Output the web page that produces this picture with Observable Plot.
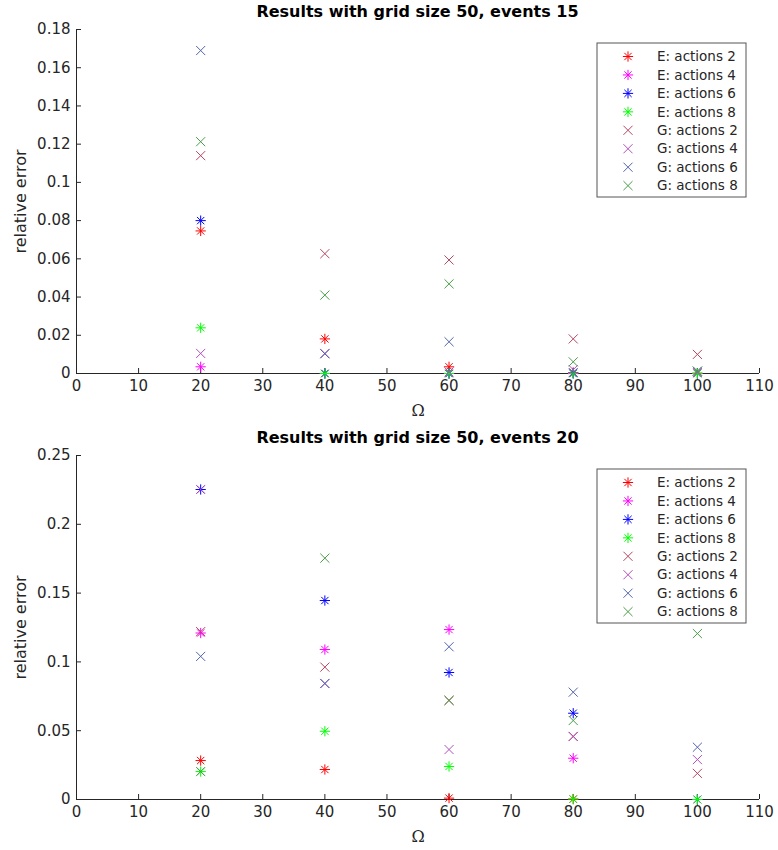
<!DOCTYPE html>
<html><head><meta charset="utf-8">
<script src="https://cdn.jsdelivr.net/npm/d3@7"></script>
<script src="https://cdn.jsdelivr.net/npm/@observablehq/plot@0.6"></script>
<style>
body{margin:0;background:#fff;font-family:"DejaVu Sans",sans-serif;}
#wrap{position:relative;width:778px;height:850px;overflow:hidden;background:#fff;}
.panel{position:absolute;left:0;width:778px;}
.title{position:absolute;left:76px;width:683px;text-align:center;font-weight:bold;font-size:16px;color:#000;font-family:"DejaVu Sans",sans-serif;}
.legend{position:absolute;}
</style></head><body><div id="wrap"></div>
<script>
// ---- data ----
const omega = [20, 40, 60, 80, 100];
const seriesKeys = ["E: actions 2","E: actions 4","E: actions 6","E: actions 8","G: actions 2","G: actions 4","G: actions 6","G: actions 8"];
const seriesColors = ["#ff0000","#ff00ff","#0000ff","#00ff00","#b5475f","#b34fc0","#5264ad","#4a9e4a"];
const xTicks = [0,10,20,30,40,50,60,70,80,90,100,110];
const yTicks15 = [0,0.02,0.04,0.06,0.08,0.1,0.12,0.14,0.16,0.18];
const yTicks20 = [0,0.05,0.1,0.15,0.2,0.25];

// grid size 50, events 15
const ev15_E2 = [0.0746, 0.0181, 0.0035, 0.0004, 0.0002];
const ev15_E4 = [0.0035, 0.0, 0.0, 0.0004, 0.0];
const ev15_E6 = [0.080, 0.0, 0.0, 0.0, 0.0];
const ev15_E8 = [0.0239, 0.0, 0.0, 0.0, 0.0];
const ev15_G2 = [0.114, 0.0627, 0.0594, 0.0181, 0.0100];
const ev15_G4 = [0.0105, 0.0105, 0.0008, 0.0020, 0.0005];
const ev15_G6 = [0.169, 0.0103, 0.0166, 0.0005, 0.0012];
const ev15_G8 = [0.1213, 0.041, 0.0469, 0.0061, 0.0012];

// grid size 50, events 20
const ev20_E2 = [0.0283, 0.0218, 0.0010, 0.0003, 0.0];
const ev20_E4 = [0.121, 0.109, 0.1235, 0.030, 0.0];
const ev20_E6 = [0.2253, 0.1446, 0.0923, 0.0627, 0.0];
const ev20_E8 = [0.0203, 0.0496, 0.024, 0.0003, 0.0];
const ev20_G2 = [0.122, 0.0962, 0.072, 0.0458, 0.019];
const ev20_G4 = [0.2253, 0.0843, 0.0363, 0.0458, 0.029];
const ev20_G6 = [0.104, 0.0843, 0.111, 0.078, 0.038];
const ev20_G8 = [0.0203, 0.1754, 0.072, 0.0574, 0.1206];

const panels = [
  {top: 0, title: "Results with grid size 50, events 15", yMax: 0.18, yTicks: yTicks15,
   values: [ev15_E2, ev15_E4, ev15_E6, ev15_E8, ev15_G2, ev15_G4, ev15_G6, ev15_G8]},
  {top: 426, title: "Results with grid size 50, events 20", yMax: 0.25, yTicks: yTicks20,
   values: [ev20_E2, ev20_E4, ev20_E6, ev20_E8, ev20_G2, ev20_G4, ev20_G6, ev20_G8]}
];

const wrap = document.getElementById("wrap");
const axisColor = "#262626";

function symbolPath(type, r) {
  const size = Math.PI * r * r;
  return d3.symbol(type === "plus" ? d3.symbolPlus : d3.symbolTimes, size)();
}

panels.forEach(p => {
  const panel = document.createElement("div");
  panel.className = "panel";
  panel.style.top = p.top + "px";
  wrap.appendChild(panel);

  const marks = [
    Plot.ruleX([0], {stroke: axisColor, strokeWidth: 1}),
    Plot.ruleY([0], {stroke: axisColor, strokeWidth: 1}),
    Plot.axisX({ticks: xTicks, tickSize: -5, tickPadding: 12, tickFormat: d => String(d),
      label: "Ω", labelAnchor: "center", labelArrow: "none", labelOffset: 42, stroke: axisColor}),
    Plot.axisY({ticks: p.yTicks, tickSize: -5, tickPadding: 11, tickFormat: d3.format("~g"),
      label: "relative error", labelAnchor: "center", labelArrow: "none", labelOffset: 62, stroke: axisColor})
  ];
  seriesKeys.forEach((key, s) => {
    const rows = omega.map((o, i) => ({omega: o, err: p.values[s][i], key}));
    if (key.startsWith("E")) {
      marks.push(Plot.dot(rows, {x: "omega", y: "err", stroke: "key", symbol: "plus", r: 3.4, strokeWidth: 1}));
      marks.push(Plot.dot(rows, {x: "omega", y: "err", stroke: "key", symbol: "times", r: 3.4, strokeWidth: 1}));
    } else {
      marks.push(Plot.dot(rows, {x: "omega", y: "err", stroke: "key", symbol: "times", r: 4.2, strokeWidth: 1}));
    }
  });

  const svg = Plot.plot({
    width: 778, height: 424,
    marginTop: 29, marginBottom: 51, marginLeft: 76, marginRight: 19,
    style: {fontFamily: "DejaVu Sans, sans-serif", fontSize: "15px", color: axisColor, background: "transparent", overflow: "visible"},
    x: {domain: [0, 110]},
    y: {domain: [0, p.yMax]},
    color: {domain: seriesKeys, range: seriesColors},
    marks
  });
  svg.style.position = "absolute";
  svg.style.left = "0px";
  svg.style.top = "0px";
  panel.appendChild(svg);
  svg.querySelectorAll('[aria-label="x-axis label"] text').forEach(t => {
    t.setAttribute("font-family", "DejaVu Serif, serif");
    t.setAttribute("font-size", "16");
  });
  svg.querySelectorAll('[aria-label="y-axis label"] text').forEach(t => {
    t.setAttribute("font-size", "16");
  });

  const title = document.createElement("div");
  title.className = "title";
  title.style.top = "2px";
  title.textContent = p.title;
  panel.appendChild(title);

  // legend
  const lw = 149, lh = 154, rowH = 18.45;
  const lg = d3.create("svg").attr("width", lw + 2).attr("height", lh + 2)
    .attr("class", "legend")
    .style("left", "596px").style("top", "42px");
  lg.append("rect").attr("x", 1).attr("y", 1).attr("width", lw).attr("height", lh)
    .attr("fill", "#fff").attr("stroke", "#555").attr("stroke-width", 1);
  seriesKeys.forEach((key, s) => {
    const cy = 1 + 13.5 + s * rowH;
    const g = lg.append("g").attr("transform", `translate(32,${cy})`);
    if (key.startsWith("E")) {
      g.append("path").attr("d", symbolPath("plus", 3.4)).attr("stroke", seriesColors[s]).attr("fill", "none");
      g.append("path").attr("d", symbolPath("times", 3.4)).attr("stroke", seriesColors[s]).attr("fill", "none");
    } else {
      g.append("path").attr("d", symbolPath("times", 4.2)).attr("stroke", seriesColors[s]).attr("fill", "none");
    }
    lg.append("text").attr("x", 61).attr("y", cy).attr("dy", "0.35em")
      .attr("font-family", "DejaVu Sans, sans-serif").attr("font-size", 13.5)
      .attr("fill", axisColor).text(key);
  });
  panel.appendChild(lg.node());
});
</script></body></html>
